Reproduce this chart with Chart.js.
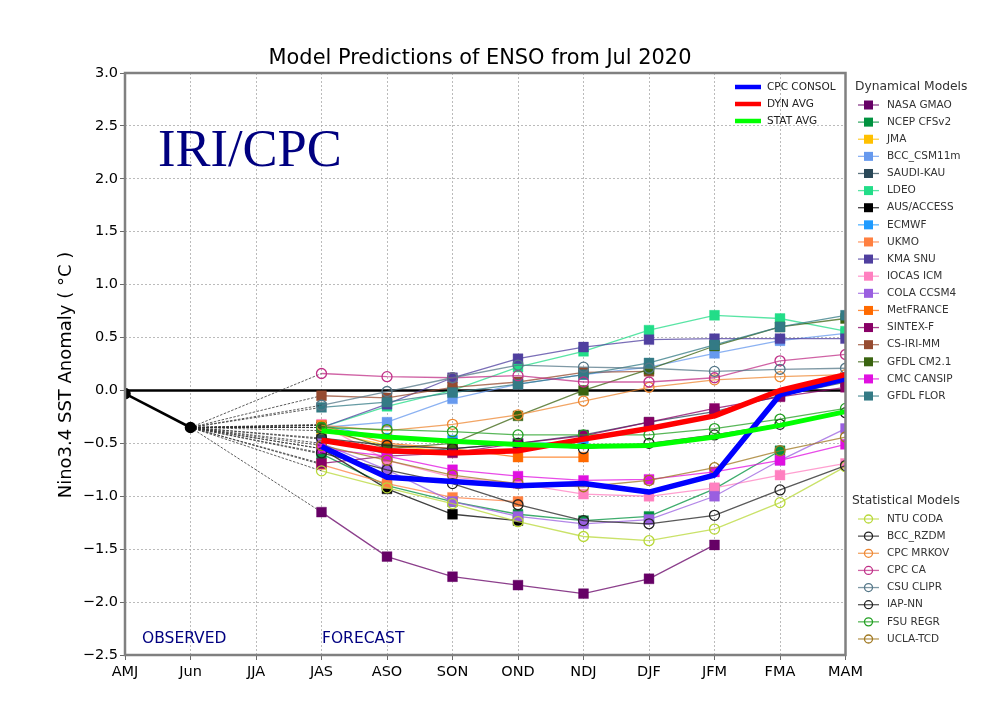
<!DOCTYPE html>
<html>
<head>
<meta charset="utf-8">
<title>Model Predictions of ENSO from Jul 2020</title>
<script src="https://cdn.jsdelivr.net/npm/chart.js@4"></script>
<style>
    html, body { margin: 0; padding: 0; background: #fff; }
    canvas { display: block; }
</style>
</head>
<body>
<canvas id="ensoChart" width="1000" height="728"></canvas>
<script>
// --- Data ---
const seasons = ['AMJ', 'Jun', 'JJA', 'JAS', 'ASO', 'SON', 'OND', 'NDJ', 'DJF', 'JFM', 'FMA', 'MAM'];
const observed = [-0.03, -0.35];
const zeroLine = [0, 0, 0, 0, 0, 0, 0, 0, 0, 0, 0, 0];

// forecasts start at JAS
const nasaGmao = [-1.15, -1.57, -1.76, -1.84, -1.92, -1.78, -1.46];
const ncepCfs = [-0.6, -0.9, -1.05, -1.17, -1.23, -1.19, -0.93, -0.57];
const jma = [-0.38, -0.52, -0.58];
const bccCsm = [-0.35, -0.3, -0.08, 0.06, 0.15, 0.22, 0.35, 0.47, 0.54];
const saudiKau = [-0.46, -0.6, -0.55, -0.5, -0.42, -0.3, -0.2, -0.05, 0.08];
const ldeo = [-0.35, -0.15, 0.0, 0.22, 0.37, 0.57, 0.71, 0.68, 0.56];
const ausAccess = [-0.55, -0.93, -1.17, -1.23];
const ecmwf = [-0.33, -0.45, -0.47, -0.5, -0.49];
const ukmo = [-0.7, -0.88, -1.01, -1.05];
const kmaSnu = [-0.35, -0.13, 0.12, 0.3, 0.41, 0.48, 0.49, 0.49, 0.49];
const iocasIcm = [-0.32, -0.66, -0.82, -0.88, -0.98, -1.0, -0.92, -0.8, -0.69];
const colaCcsm = [-0.5, -0.75, -1.05, -1.19, -1.26, -1.22, -1.0, -0.66, -0.36];
const metFrance = [-0.33, -0.5, -0.55, -0.63, -0.63];
const sintexF = [-0.69, -0.62, -0.59, -0.5, -0.43, -0.3, -0.17, -0.06, 0.03];
const csIriMm = [-0.05, -0.07, 0.03, 0.08, 0.17, 0.18];
const gfdlCm = [-0.35, -0.55, -0.5, -0.24, 0.0, 0.2, 0.42, 0.6, 0.68];
const cmcCansip = [-0.55, -0.62, -0.75, -0.81, -0.85, -0.84, -0.77, -0.66, -0.51];
const gfdlFlor = [-0.16, -0.11, -0.02, 0.06, 0.15, 0.26, 0.43, 0.6, 0.71];

const ntuCoda = [-0.76, -0.92, -1.07, -1.24, -1.38, -1.42, -1.31, -1.06, -0.72];
const bccRzdm = [-0.59, -0.75, -0.88, -1.08, -1.23, -1.26, -1.18, -0.94, -0.71];
const cpcMrkov = [-0.33, -0.38, -0.32, -0.23, -0.1, 0.03, 0.1, 0.13, 0.15];
const cpcCa = [0.16, 0.13, 0.12, 0.14, 0.08, 0.08, 0.12, 0.28, 0.34];
const csuClipr = [-0.14, -0.01, 0.12, 0.24, 0.22, 0.21, 0.18, 0.2, 0.21];
const iapNn = [-0.45, -0.52, -0.55, -0.5, -0.55, -0.5, -0.42, -0.32, -0.21];
const fsuRegr = [-0.35, -0.37, -0.39, -0.42, -0.42, -0.42, -0.36, -0.27, -0.17];
const uclaTcd = [-0.52, -0.66, -0.8, -0.88, -0.91, -0.85, -0.73, -0.57, -0.44];

const cpcConsol = [-0.53, -0.82, -0.86, -0.9, -0.88, -0.96, -0.8, -0.04, 0.11];
const dynAvg = [-0.47, -0.57, -0.59, -0.57, -0.46, -0.36, -0.24, 0.0, 0.15];
const statAvg = [-0.38, -0.44, -0.48, -0.51, -0.53, -0.52, -0.44, -0.33, -0.2];

const dynamicalModels = [
    { name: 'NASA GMAO', color: '#660066', values: nasaGmao },
    { name: 'NCEP CFSv2', color: '#00923f', values: ncepCfs },
    { name: 'JMA', color: '#ffc000', values: jma },
    { name: 'BCC_CSM11m', color: '#6699ee', values: bccCsm },
    { name: 'SAUDI-KAU', color: '#2a4858', values: saudiKau },
    { name: 'LDEO', color: '#22dd88', values: ldeo },
    { name: 'AUS/ACCESS', color: '#000000', values: ausAccess },
    { name: 'ECMWF', color: '#1e9bff', values: ecmwf },
    { name: 'UKMO', color: '#ff8040', values: ukmo },
    { name: 'KMA SNU', color: '#4f3f9f', values: kmaSnu },
    { name: 'IOCAS ICM', color: '#ff80c0', values: iocasIcm },
    { name: 'COLA CCSM4', color: '#9a5fe0', values: colaCcsm },
    { name: 'MetFRANCE', color: '#ff6a00', values: metFrance },
    { name: 'SINTEX-F', color: '#880066', values: sintexF },
    { name: 'CS-IRI-MM', color: '#964b30', values: csIriMm },
    { name: 'GFDL CM2.1', color: '#3a6410', values: gfdlCm },
    { name: 'CMC CANSIP', color: '#e010e0', values: cmcCansip },
    { name: 'GFDL FLOR', color: '#337a85', values: gfdlFlor }
];
const statisticalModels = [
    { name: 'NTU CODA', color: '#b8d838', values: ntuCoda },
    { name: 'BCC_RZDM', color: '#222222', values: bccRzdm },
    { name: 'CPC MRKOV', color: '#ee8833', values: cpcMrkov },
    { name: 'CPC CA', color: '#c03088', values: cpcCa },
    { name: 'CSU CLIPR', color: '#557788', values: csuClipr },
    { name: 'IAP-NN', color: '#222222', values: iapNn },
    { name: 'FSU REGR', color: '#22a022', values: fsuRegr },
    { name: 'UCLA-TCD', color: '#a07820', values: uclaTcd }
];
const averages = [
    { name: 'CPC CONSOL', color: '#0000ff', values: cpcConsol, width: 5.5 },
    { name: 'DYN AVG', color: '#ff0000', values: dynAvg, width: 5.5 },
    { name: 'STAT AVG', color: '#00ff00', values: statAvg, width: 5 }
];

const FONT = "'DejaVu Sans', sans-serif";

// every plume line starts with a dashed leg from the June observation (JAS is index 3)
function modelDataset(model, pointStyle) {
    const isSquare = pointStyle === 'rect';
    return {
        label: model.name,
        data: [null, observed[1], null].concat(model.values),
        borderColor: model.color + 'c0',
        borderWidth: 1.3,
        spanGaps: true,
        clip: 0,
        tension: 0,
        pointStyle: pointStyle,
        pointRadius: ctx => ctx.dataIndex === 1 ? 0 : (isSquare ? 7 : 5),
        pointBackgroundColor: isSquare ? model.color : 'rgba(0,0,0,0)',
        pointBorderColor: isSquare ? model.color + '60' : model.color,
        pointBorderWidth: isSquare ? 1 : 1.3,
        segment: {
            borderColor: ctx => ctx.p1DataIndex <= 3 ? '#333333' : undefined,
            borderDash: ctx => ctx.p1DataIndex <= 3 ? [2.5, 1.5] : undefined,
            borderWidth: ctx => ctx.p1DataIndex <= 3 ? 0.8 : undefined
        }
    };
}

const datasets = [
    { label: 'zero', data: zeroLine, borderColor: '#000000', borderWidth: 2.5, pointRadius: 0, clip: 0 }
];
dynamicalModels.forEach(m => datasets.push(modelDataset(m, 'rect')));
statisticalModels.forEach(m => datasets.push(modelDataset(m, 'circle')));
datasets.push({
    label: 'OBSERVED',
    data: observed,
    borderColor: '#000000',
    borderWidth: 2.6,
    clip: 0,
    pointRadius: 4.5,
    pointBackgroundColor: '#000000',
    pointBorderColor: '#000000'
});
averages.forEach(m => datasets.push({
    label: m.name,
    data: [null, null, null].concat(m.values),
    borderColor: m.color,
    borderWidth: m.width,
    clip: 0,
    pointRadius: 0,
    borderJoinStyle: 'round'
}));
// later entries paint on top
datasets.forEach((d, i) => { d.order = -i; });

// frame, titles, notes and the three legends
const decorations = {
    id: 'decorations',
    afterDatasetsDraw(chart) {
        const c = chart.ctx;
        const area = chart.chartArea;
        c.save();
        c.strokeStyle = '#808080';
        c.lineWidth = 2.5;
        c.strokeRect(area.left, area.top, area.right - area.left, area.bottom - area.top);

        c.textBaseline = 'middle';
        c.textAlign = 'center';
        c.fillStyle = '#000';
        c.font = '20.9px ' + FONT;
        c.fillText('Model Predictions of ENSO from Jul 2020', 480, 59);

        c.save();
        c.translate(66, 375);
        c.rotate(-Math.PI / 2);
        c.font = '18px ' + FONT;
        c.fillText('Nino3.4 SST Anomaly ( °C )', 0, 0);
        c.restore();

        c.textAlign = 'left';
        c.fillStyle = '#000080';
        c.font = "52.5px 'Liberation Serif', serif";
        c.fillText('IRI/CPC', 158, 152);
        c.font = '15.5px ' + FONT;
        c.fillText('OBSERVED', 142, 639);
        c.fillText('FORECAST', 322, 639);

        // inset legend
        c.font = '10.5px ' + FONT;
        averages.forEach((m, i) => {
            const y = 87 + i * 17;
            c.strokeStyle = m.color;
            c.lineWidth = 4.5;
            c.beginPath();
            c.moveTo(735, y);
            c.lineTo(761, y);
            c.stroke();
            c.fillStyle = '#222';
            c.fillText(m.name, 767, y);
        });

        c.fillStyle = '#333';
        c.font = '12.3px ' + FONT;
        c.fillText('Dynamical Models', 855, 87);
        c.fillText('Statistical Models', 852, 501);

        dynamicalModels.forEach((m, i) => legendRow(c, m, 105 + i * 17.12, true));
        statisticalModels.forEach((m, i) => legendRow(c, m, 519 + i * 17.14, false));
        c.restore();
    }
};

function legendRow(c, model, y, isSquare) {
    c.strokeStyle = model.color + 'c0';
    c.lineWidth = 1.3;
    c.beginPath();
    c.moveTo(858, y);
    c.lineTo(879, y);
    c.stroke();
    if (isSquare) {
        c.fillStyle = model.color;
        c.fillRect(864, y - 4.5, 9, 9);
    } else {
        c.strokeStyle = model.color;
        c.lineWidth = 1.3;
        c.beginPath();
        c.arc(868.5, y, 4, 0, Math.PI * 2);
        c.stroke();
    }
    c.fillStyle = '#333';
    c.font = '10.5px ' + FONT;
    c.fillText(model.name, 887, y);
}

new Chart(document.getElementById('ensoChart').getContext('2d'), {
    type: 'line',
    data: { labels: seasons, datasets: datasets },
    plugins: [decorations],
    options: {
        responsive: false,
        animation: false,
        devicePixelRatio: 1,
        layout: { padding: { top: 73, right: 154.5, bottom: 0, left: 0 } },
        plugins: { legend: { display: false }, title: { display: false }, tooltip: { enabled: false } },
        scales: {
            x: {
                offset: false,
                afterFit: scale => { scale.height = 73; },
                border: { display: false, dash: [2, 2] },
                grid: { color: '#aaaaaa', lineWidth: 0.8, tickColor: '#444444', tickLength: 5, tickBorderDash: [] },
                ticks: { color: '#000', maxRotation: 0, autoSkip: false, padding: 4, font: { family: FONT, size: 14.5 } }
            },
            y: {
                min: -2.5,
                max: 3,
                afterFit: scale => { scale.width = 125; },
                border: { display: false, dash: [2, 2] },
                grid: { color: '#aaaaaa', lineWidth: 0.8, tickColor: '#444444', tickLength: 5, tickBorderDash: [] },
                ticks: {
                    stepSize: 0.5,
                    color: '#000',
                    padding: 2,
                    font: { family: FONT, size: 14.5 },
                    callback: value => value.toFixed(1).replace('-', '\u2212')
                }
            }
        }
    }
});
</script>
</body>
</html>
